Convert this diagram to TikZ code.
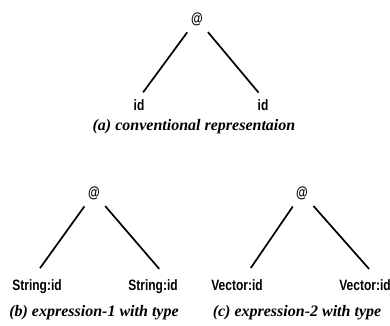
\documentclass[tikz,border=0pt]{standalone}
\usepackage{fontspec}
\setmainfont{Liberation Serif}
\newfontfamily\labelfont[FakeStretch=0.8]{Liberation Sans}
\usetikzlibrary{positioning}
\tikzset{
  root/.style={inner sep=1pt,font=\labelfont\bfseries\fontsize{15}{15}\selectfont},
  leaf/.style={inner sep=1pt,anchor=base,font=\labelfont\bfseries\fontsize{15}{15}\selectfont},
  caption/.style={inner sep=0pt,anchor=base,font=\fontsize{16}{16}\selectfont\bfseries\itshape},
  edge/.style={draw=black,line width=1.7pt,shorten <=7pt,shorten >=7pt},
  lowedge/.style={edge,shorten >=12pt},
}
\begin{document}
\begin{tikzpicture}[x=1pt,y=-1pt]
\useasboundingbox (0,0) rectangle (390,325);
% (a) conventional
\node[root] (at1) at (197,19) {@};
\node[leaf] (ida) at (139,110) {id};
\node[leaf] (idb) at (263,110) {id};
\draw[edge] (at1) -- (ida.north); \draw[edge] (at1) -- (idb.north);
\node[caption] (capa) at (194,130) {(a) conventional representaion};
% (b) expression-1
\node[root] (at2) at (94,193) {@};
\node[leaf] (stra) at (37,290) {String:id};
\node[leaf] (strb) at (153,290) {String:id};
\draw[lowedge] (at2) -- ([xshift=-4pt]stra.north); \draw[lowedge] (at2) -- ([xshift=14pt]strb.north);
\node[caption] (capb) at (94,316) {(b) expression-1 with type};
% (c) expression-2
\node[root] (at3) at (302,193) {@};
\node[leaf] (veca) at (237,290) {Vector:id};
\node[leaf] (vecb) at (365,290) {Vector:id};
\draw[lowedge] (at3) -- ([xshift=7pt]veca.north); \draw[lowedge] (at3) -- ([xshift=12pt]vecb.north);
\node[caption] (capc) at (297,316) {(c) expression-2 with type};
\end{tikzpicture}
\end{document}
